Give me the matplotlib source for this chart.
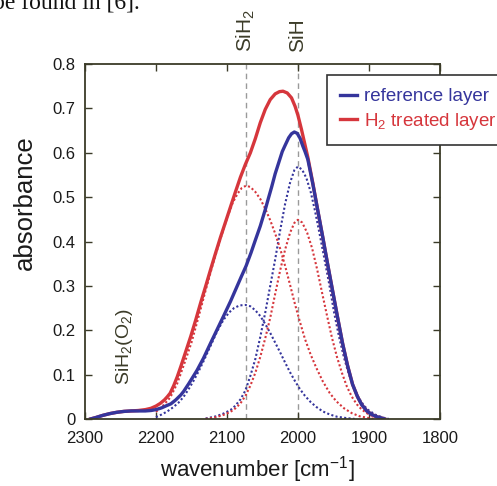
import matplotlib
matplotlib.use("Agg")
import matplotlib.pyplot as plt
import matplotlib.transforms as mtransforms

plt.rcParams['font.family'] = ['Liberation Sans', 'DejaVu Sans']
plt.rcParams['mathtext.default'] = 'regular'

ref_total_w = [2292, 2285, 2275, 2265, 2255, 2245, 2235, 2225, 2215, 2207, 2200, 2192, 2185,
               2179, 2172, 2165, 2161, 2154, 2147, 2142, 2133, 2123, 2114, 2105, 2095, 2086,
               2080, 2073, 2066, 2060, 2053, 2046, 2042, 2037, 2032, 2027, 2022, 2018, 2013,
               2009, 2005, 2001, 1997, 1993, 1990, 1986, 1979, 1972, 1965, 1958, 1951, 1944,
               1937, 1930, 1923, 1916, 1910, 1903, 1896, 1889, 1882, 1878]
ref_total_a = [0, 0.003, 0.008, 0.012, 0.015, 0.017, 0.018, 0.018, 0.018, 0.019, 0.021, 0.025, 0.03,
               0.034, 0.043, 0.054, 0.062, 0.079, 0.097, 0.11, 0.137, 0.171, 0.201, 0.231, 0.265, 0.298,
               0.32, 0.345, 0.375, 0.403, 0.435, 0.472, 0.495, 0.523, 0.553, 0.578, 0.603, 0.617, 0.634,
               0.643, 0.647, 0.644, 0.633, 0.615, 0.603, 0.585, 0.53, 0.47, 0.41, 0.348, 0.288, 0.228,
               0.17, 0.12, 0.078, 0.05, 0.032, 0.018, 0.01, 0.005, 0.002, 0]

h2_total_w = [2292, 2285, 2275, 2265, 2255, 2245, 2235, 2225, 2215, 2207, 2200, 2194, 2188,
              2184, 2180, 2175, 2170, 2165, 2158, 2151, 2144, 2137, 2130, 2123, 2116, 2109,
              2102, 2095, 2088, 2081, 2074, 2067, 2060, 2053, 2046, 2039, 2032, 2026, 2021,
              2015, 2009, 2004, 2000, 1995, 1990, 1986, 1979, 1972, 1965, 1958, 1951, 1944,
              1937, 1930, 1923, 1916, 1910, 1903, 1896, 1889, 1882, 1878]
h2_total_a = [0, 0.003, 0.008, 0.012, 0.015, 0.017, 0.018, 0.019, 0.021, 0.024, 0.029, 0.035, 0.043,
              0.05, 0.058, 0.075, 0.095, 0.118, 0.152, 0.186, 0.223, 0.262, 0.299, 0.337, 0.374, 0.41,
              0.444, 0.478, 0.512, 0.545, 0.574, 0.60, 0.632, 0.668, 0.698, 0.72, 0.733, 0.738, 0.739,
              0.735, 0.724, 0.705, 0.685, 0.653, 0.618, 0.59, 0.532, 0.47, 0.41, 0.348, 0.288, 0.228,
              0.17, 0.12, 0.078, 0.05, 0.032, 0.018, 0.01, 0.005, 0.002, 0]

# fitted components (dotted)
ref_sih2_w = [2200, 2192, 2184, 2176, 2168, 2161, 2154, 2147, 2140, 2133, 2123, 2114, 2105,
              2097, 2090, 2082, 2074, 2067, 2060, 2053, 2046, 2039, 2032, 2025, 2018, 2011,
              2004, 1997, 1990, 1982, 1974, 1965, 1955, 1945, 1932, 1920]
ref_sih2_a = [0.004, 0.01, 0.017, 0.026, 0.037, 0.05, 0.067, 0.086, 0.107, 0.13, 0.165, 0.197, 0.223,
              0.24, 0.25, 0.256, 0.257, 0.254, 0.245, 0.232, 0.214, 0.194, 0.172, 0.15, 0.127, 0.105,
              0.085, 0.067, 0.052, 0.038, 0.027, 0.017, 0.01, 0.005, 0.002, 0]

ref_sih_w = [2130, 2115, 2105, 2095, 2088, 2081, 2074, 2067, 2060, 2053, 2046, 2039, 2032,
             2025, 2018, 2011, 2005, 2000, 1994, 1988, 1982, 1976, 1970, 1963, 1956, 1949,
             1942, 1935, 1928, 1921, 1914, 1907, 1900, 1890, 1880, 1872]
ref_sih_a = [0.001, 0.006, 0.012, 0.02, 0.03, 0.044, 0.064, 0.097, 0.135, 0.185, 0.24, 0.30, 0.36,
             0.425, 0.485, 0.533, 0.561, 0.569, 0.562, 0.543, 0.512, 0.47, 0.422, 0.364, 0.305, 0.24,
             0.185, 0.138, 0.10, 0.07, 0.047, 0.03, 0.019, 0.009, 0.003, 0]

h2_sih2_w = [2200, 2190, 2180, 2170, 2160, 2150, 2140, 2130, 2120, 2110, 2100, 2092, 2085,
             2079, 2073, 2067, 2060, 2053, 2046, 2039, 2032, 2025, 2018, 2011, 2004, 1997,
             1990, 1982, 1974, 1965, 1955, 1946, 1935, 1924, 1913, 1900, 1890]
h2_sih2_a = [0.016, 0.03, 0.048, 0.08, 0.125, 0.172, 0.23, 0.29, 0.348, 0.402, 0.452, 0.487, 0.508,
             0.521, 0.526, 0.523, 0.512, 0.496, 0.474, 0.448, 0.418, 0.384, 0.345, 0.302, 0.258, 0.218,
             0.18, 0.145, 0.115, 0.085, 0.058, 0.04, 0.024, 0.013, 0.006, 0.002, 0]

h2_sih_w = [2130, 2115, 2105, 2095, 2088, 2081, 2074, 2067, 2060, 2053, 2046, 2039, 2032,
            2025, 2018, 2011, 2005, 2000, 1994, 1987, 1980, 1973, 1966, 1959, 1952, 1945,
            1938, 1931, 1924, 1917, 1910, 1900, 1890, 1880]
h2_sih_a = [0, 0.004, 0.009, 0.016, 0.024, 0.035, 0.052, 0.075, 0.104, 0.14, 0.182, 0.228, 0.282,
            0.335, 0.382, 0.42, 0.442, 0.449, 0.443, 0.42, 0.385, 0.338, 0.285, 0.233, 0.183, 0.14,
            0.104, 0.073, 0.05, 0.033, 0.021, 0.01, 0.004, 0]

peak_pos = [2073, 2000]
peak_names = ['SiH$_2$', 'SiH']
legend_labels = ['reference layer', 'H$_2$ treated layer']

blue = '#35359c'
red = '#d6363c'
frame = '#3b3b28'

fig = plt.figure(figsize=(4.97, 4.86), dpi=100)
ax = fig.add_axes([0.171, 0.138, 0.714, 0.730])

for p in peak_pos:
    ax.axvline(p, color='#9a9a9a', ls=(0, (4, 3)), lw=1.0, zorder=1)

dots = (0, (1, 1.1))
ax.plot(ref_sih2_w, ref_sih2_a, color=blue, lw=1.5, ls=dots)
ax.plot(ref_sih_w, ref_sih_a, color=blue, lw=1.5, ls=dots)
ax.plot(h2_sih2_w, h2_sih2_a, color=red, lw=1.5, ls=dots)
ax.plot(h2_sih_w, h2_sih_a, color=red, lw=1.5, ls=dots)
l_h2, = ax.plot(h2_total_w, h2_total_a, '-', color=red, lw=2.4, solid_joinstyle='round')
l_ref, = ax.plot(ref_total_w, ref_total_a, '-', color=blue, lw=2.4, solid_joinstyle='round')

ax.set_xlim(2300, 1800)
ax.set_ylim(0, 0.8)
ax.set_xticks([2300, 2200, 2100, 2000, 1900, 1800])
ax.set_yticks([0, 0.1, 0.2, 0.3, 0.4, 0.5, 0.6, 0.7, 0.8])
ax.set_yticklabels(['0', '0.1', '0.2', '0.3', '0.4', '0.5', '0.6', '0.7', '0.8'])
ax.tick_params(direction='in', top=True, right=True, length=5, width=1,
               color=frame, labelcolor='#1a1a1a', labelsize=12)
ax.tick_params(axis='x', pad=9)
ax.tick_params(axis='y', pad=7)
for s in ax.spines.values():
    s.set_color(frame)
    s.set_linewidth(1.3)

ax.set_xlabel('wavenumber [cm$^{-1}$]', fontsize=16, color='#1a1a1a')
ax.xaxis.set_label_coords(0.485, -0.1)
ax.set_ylabel('absorbance', fontsize=18.5, color='#1a1a1a')
ax.yaxis.set_label_coords(-0.135, 0.61)

trans = mtransforms.blended_transform_factory(ax.transData, ax.transAxes)
for p, name in zip(peak_pos, peak_names):
    ax.text(p, 1.034, name, transform=trans, rotation=90, ha='center', va='bottom',
            fontsize=15, color=frame, clip_on=False)

ax.text(2245, 0.077, 'SiH$_2$(O$_2$)', rotation=90, ha='center', va='bottom',
        fontsize=14, color=frame)

leg = ax.legend([l_ref, l_h2], legend_labels, loc='upper left',
                bbox_to_anchor=(327 / 497, 1 - 75 / 486), bbox_transform=fig.transFigure,
                borderaxespad=0, fancybox=False, fontsize=13.5, handlelength=0.9,
                handletextpad=0.4, labelspacing=0.31, borderpad=0.7, framealpha=1)
leg.get_frame().set_edgecolor('#333333')
leg.get_frame().set_linewidth(1.2)
for t, c in zip(leg.get_texts(), [blue, red]):
    t.set_color(c)

# cut-off line of body text above the figure
fig.text(-7 / 497, 1 - 8 / 486, 'be found in [6].', family='Liberation Serif',
         fontsize=17, va='baseline', ha='left', color='#111111')

fig.savefig('out.png', dpi=100)
